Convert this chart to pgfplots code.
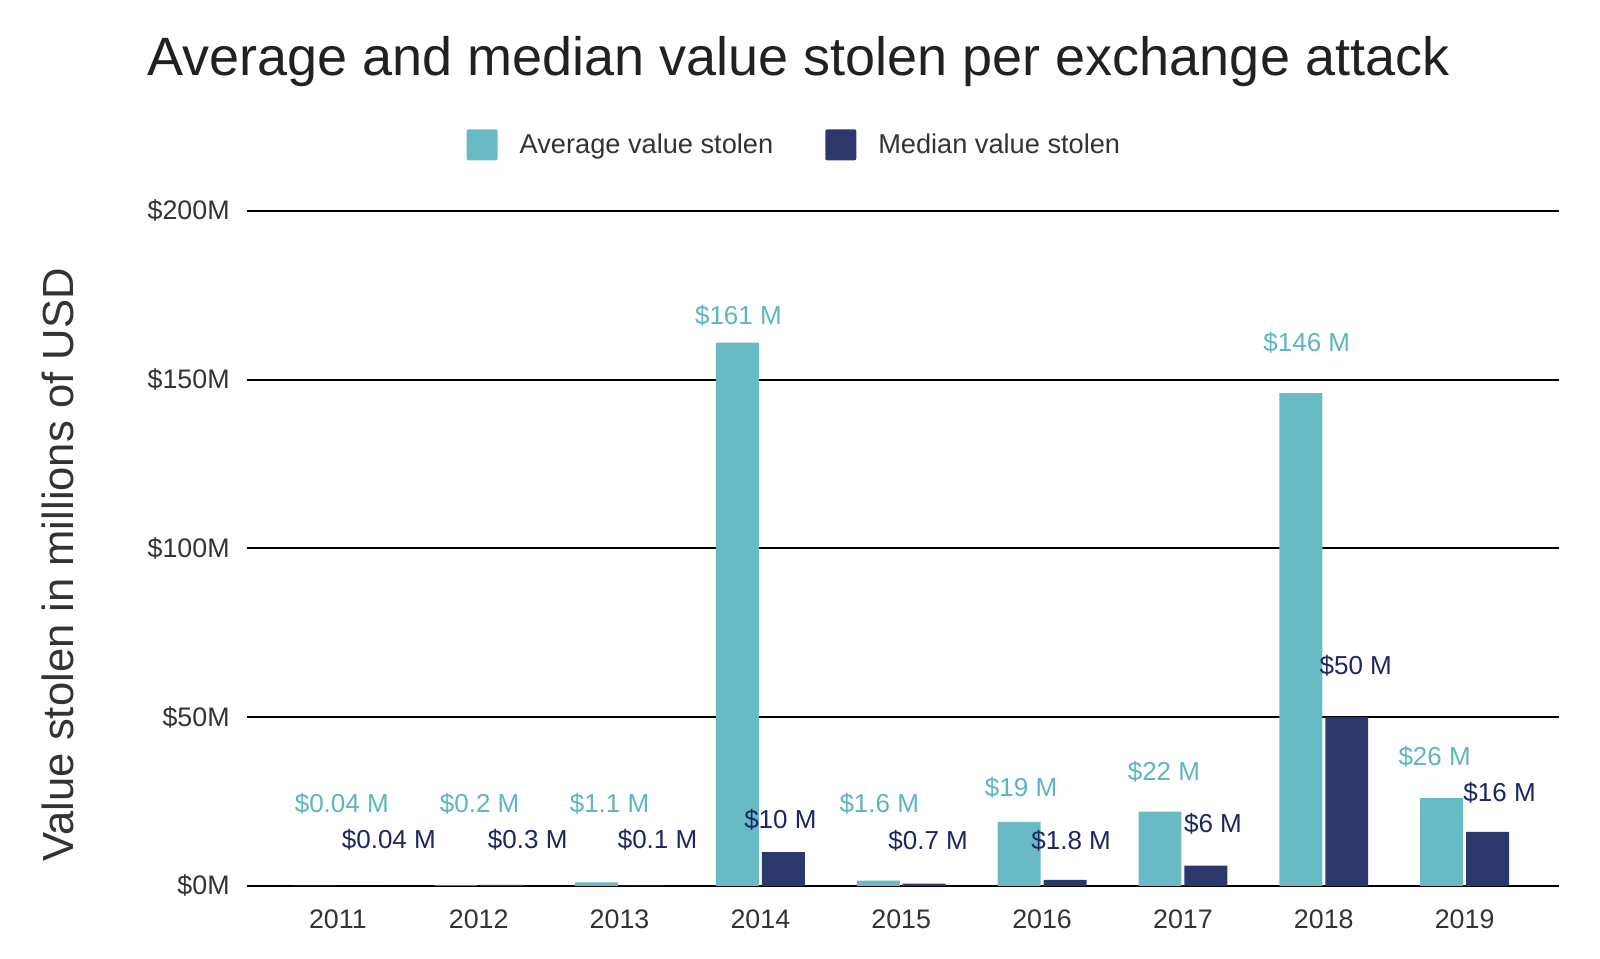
\documentclass[border=0pt]{standalone}
\usepackage{fontspec}
\setmainfont{Liberation Sans}
\usepackage{pgfplots}
\pgfplotsset{compat=1.18}
\definecolor{avgc}{RGB}{104,187,196}
\definecolor{medc}{RGB}{44,56,107}
\definecolor{avglab}{RGB}{92,182,192}
\definecolor{medlab}{RGB}{28,38,100}
\definecolor{txt}{RGB}{51,51,51}
\begin{document}
\begin{tikzpicture}
\path[use as bounding box] (0,0) rectangle (800pt,479pt);
\begin{axis}[
  at={(123.5pt,36pt)}, anchor=south west,
  scale only axis, width=656pt, height=337.5pt,
  xmin=-0.645, xmax=8.67, ymin=0, ymax=200,
  clip=false,
  axis line style={draw=none},
  major tick length=0pt,
  tick style={draw=none},
  ymajorgrids, grid style={black, line width=1pt},
  xtick={0,1,2,3,4,5,6,7,8},
  xticklabels={2011,2012,2013,2014,2015,2016,2017,2018,2019},
  ytick={0,50,100,150,200},
  yticklabels={\$0M,\$50M,\$100M,\$150M,\$200M},
  ticklabel style={font=\fontsize{13.4}{15}\selectfont, text=txt},
  yticklabel style={inner sep=0pt, anchor=east, xshift=-8.5pt},
  xticklabel style={inner sep=0pt, anchor=north, yshift=-11.5pt},
  title={Average and median value stolen per exchange attack},
  title style={at={(axis description cs:0.4203,1.1835)}, anchor=base, font=\fontsize{27}{32}\selectfont, text=black!87},
  ylabel={Value stolen in millions of USD},
  ylabel style={at={(axis description cs:-0.144,0.476)}, anchor=center, font=\fontsize{21.8}{26}\selectfont, text=txt},
  legend style={at={(axis description cs:0.4165,1.098)}, anchor=center, draw=none, fill=none,
    font=\fontsize{13.6}{16}\selectfont, text=txt,
    legend columns=2,
    /tikz/every even column/.append style={column sep=26pt},
    nodes={inner sep=0pt, anchor=west}},
  legend cell align=left,
]
\addplot[ybar, bar width=0.305, bar shift=-0.163, fill=avgc, draw=none,
  legend image code/.code={\fill[avgc, rounded corners=1pt] (0pt,-7.75pt) rectangle (15.5pt,7.75pt); \path (26.5pt,0pt);}]
  coordinates {(0,0.04) (1,0.2) (2,1.1) (3,161) (4,1.6) (5,19) (6,22) (7,146) (8,26)};
\addlegendentry{Average value stolen}
\addplot[ybar, bar width=0.305, bar shift=0.163, fill=medc, draw=none,
  legend image code/.code={\fill[medc, rounded corners=1pt] (0pt,-7.75pt) rectangle (15.5pt,7.75pt); \path (26.5pt,0pt);}]
  coordinates {(0,0.04) (1,0.3) (2,0.1) (3,10) (4,0.7) (5,1.8) (6,6) (7,50) (8,16)};
\addlegendentry{Median value stolen}
\addplot[draw=none, mark=none, forget plot, point meta=explicit symbolic,
  nodes near coords, nodes near coords style={anchor=center, inner sep=0pt, text=avglab, font=\fontsize{13}{15}\selectfont}]
  coordinates {(0.028,24.3) [\$0.04 M] (1.007,24.3) [\$0.2 M] (1.929,24.3) [\$1.1 M]
    (2.844,168.9) [\$161 M] (3.844,24.3) [\$1.6 M] (4.851,29.0) [\$19 M]
    (5.865,33.8) [\$22 M] (6.879,161.0) [\$146 M] (7.787,38.2) [\$26 M]};
\addplot[draw=none, mark=none, forget plot, point meta=explicit symbolic,
  nodes near coords, nodes near coords style={anchor=center, inner sep=0pt, text=medlab, font=\fontsize{13}{15}\selectfont}]
  coordinates {(0.362,13.6) [\$0.04 M] (1.348,13.6) [\$0.3 M] (2.270,13.6) [\$0.1 M]
    (3.142,19.6) [\$10 M] (4.191,13.3) [\$0.7 M] (5.206,13.3) [\$1.8 M]
    (6.213,18.4) [\$6 M] (7.227,65.2) [\$50 M] (8.248,27.6) [\$16 M]};
\end{axis}
\end{tikzpicture}
\end{document}
